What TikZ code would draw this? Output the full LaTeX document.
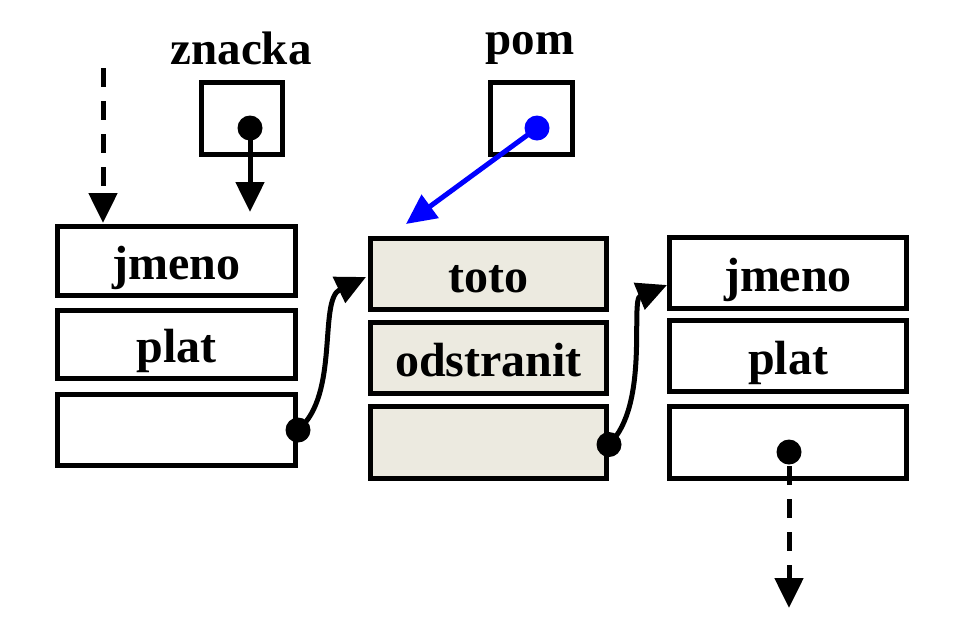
\documentclass[tikz,border=0pt]{standalone}
\usepackage{fontspec}
\setmainfont{Liberation Serif}
\usetikzlibrary{arrows.meta}
\definecolor{shade}{RGB}{236,234,224}
\begin{document}
\begin{tikzpicture}[x=1pt,y=-1pt,
  cell/.style={draw,line width=5pt,rectangle,inner sep=0pt,text height=36pt,text depth=0pt,font=\fontsize{48}{50}\selectfont\bfseries},
  lbl/.style={inner sep=0pt,font=\fontsize{47}{50}\selectfont\bfseries},
  dot/.style={circle,fill,inner sep=0pt,minimum size=25pt},
  ptr/.style={line width=5pt,-{Triangle[length=30pt,width=28pt]}},
  dptr/.style={ptr,dash pattern=on 19pt off 14pt}]
\useasboundingbox (0,0) rectangle (956,633);
% left record
\node[cell,minimum width=238pt,minimum height=69pt] (L1) at (176.5,261) {jmeno};
\node[cell,minimum width=238pt,minimum height=68pt] (L2) at (176.5,344.5) {plat};
\node[cell,minimum width=238pt,minimum height=71pt] (L3) at (176.5,430) {};
% middle record
\node[cell,fill=shade,minimum width=236pt,minimum height=71pt] (M1) at (488.5,274) {toto};
\node[cell,fill=shade,minimum width=236pt,minimum height=71pt] (M2) at (488.5,358) {odstranit};
\node[cell,fill=shade,minimum width=236pt,minimum height=72pt] (M3) at (488.5,442.5) {};
% right record
\node[cell,minimum width=237pt,minimum height=71pt] (R1) at (788,273) {jmeno};
\node[cell,minimum width=237pt,minimum height=71pt] (R2) at (788,356) {plat};
\node[cell,minimum width=237pt,minimum height=72pt] (R3) at (788,442.5) {};
% pointer variables
\node[cell,minimum width=81pt,minimum height=72pt] (zn) at (242,118.5) {};
\node[cell,minimum width=82pt,minimum height=72pt] (pm) at (531.5,118.5) {};
\node[lbl] (znl) at (241,48) {znacka};
\node[lbl] (pml) at (530,48) {pom};
% dots
\node[dot] (dz) at (250,128) {};
\node[dot,blue] (dp) at (537,128) {};
\node[dot] (d1) at (L3.east) {};
\node[dot] (d2) at ([yshift=-2pt]M3.east) {};
\node[dot] (d3) at (789,452) {};
% free ends
\coordinate (top) at (103,68);
\coordinate (topt) at (103,223);
\coordinate (znt) at (250,212);
\coordinate (pmt) at (406,224);
\coordinate (bot) at (789,608);
\coordinate (m1t) at (366,277);
\coordinate (r1t) at (667,285);
% connectors
\draw[dptr] (top) -- (topt);
\draw[ptr] (dz.center) -- (znt);
\draw[ptr,blue] (dp.center) -- (pmt);
\draw[ptr] (d1.center) .. controls (340,395) and (318,300) .. (m1t);
\draw[ptr] (d2.center) .. controls (650,405) and (630,300) .. (r1t);
\draw[dptr] (d3.center) ++(0,14) -- (bot);
\end{tikzpicture}
\end{document}
